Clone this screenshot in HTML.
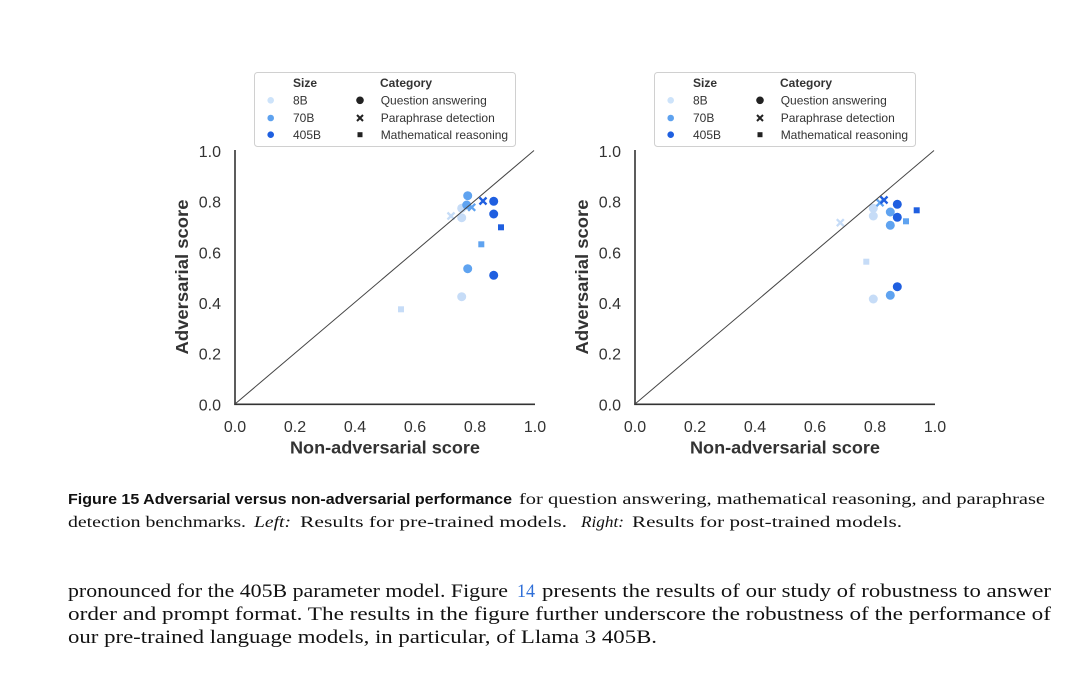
<!DOCTYPE html>
<html>
<head>
<meta charset="utf-8">
<style>
  html,body{margin:0;padding:0;background:#fff;}
  svg{display:block;}
  .tick{font-family:"Liberation Sans",Arial,sans-serif;font-size:16px;fill:#333;}
  .atitle{font-family:"Liberation Sans",Arial,sans-serif;font-size:17.5px;font-weight:bold;fill:#333;}
  .lg{font-family:"Liberation Sans",Arial,sans-serif;font-size:12px;fill:#333;}
  .lgb{font-family:"Liberation Sans",Arial,sans-serif;font-size:12px;font-weight:bold;fill:#333;}
  .cap{font-family:"Liberation Serif","Times New Roman",serif;font-size:16px;fill:#111;}
  .capb{font-family:"Liberation Sans",Arial,sans-serif;font-size:15px;font-weight:bold;fill:#111;}
  .body{font-family:"Liberation Serif","Times New Roman",serif;font-size:19px;fill:#111;}
</style>
</head>
<body>
<svg width="1091" height="674" viewBox="0 0 1091 674" xmlns="http://www.w3.org/2000/svg">
  <rect width="1091" height="674" fill="#fff"/>
  <defs>
    <g id="legend">
      <rect x="254.5" y="72.5" width="261" height="74" rx="3" fill="#fff" stroke="#d0d0d0" stroke-width="1"/>
      <text class="lgb" x="293" y="87">Size</text>
      <text class="lgb" x="380" y="87">Category</text>
      <circle cx="270.7" cy="100.3" r="3.3" fill="#cde3fa"/>
      <circle cx="270.7" cy="118" r="3.3" fill="#5ea2ef"/>
      <circle cx="270.7" cy="134.7" r="3.3" fill="#1e5fe0"/>
      <text class="lg" x="293" y="104.5">8B</text>
      <text class="lg" x="293" y="122.2">70B</text>
      <text class="lg" x="293" y="139">405B</text>
      <circle cx="360" cy="100.3" r="3.8" fill="#222"/>
      <path d="M357,115 L363,121 M363,115 L357,121" stroke="#222" stroke-width="2"/>
      <rect x="357.5" y="132.2" width="5" height="5" fill="#222"/>
      <text class="lg" x="380.7" y="104.5">Question answering</text>
      <text class="lg" x="380.7" y="122.2">Paraphrase detection</text>
      <text class="lg" x="380.7" y="139">Mathematical reasoning</text>
    </g>
    <g id="axes">
      <line x1="235" y1="150" x2="235" y2="404.5" stroke="#333" stroke-width="1.6"/>
      <line x1="234.2" y1="404.3" x2="535" y2="404.3" stroke="#333" stroke-width="1.6"/>
      <text class="tick" x="221" y="157" text-anchor="end">1.0</text>
      <text class="tick" x="221" y="207.5" text-anchor="end">0.8</text>
      <text class="tick" x="221" y="258.3" text-anchor="end">0.6</text>
      <text class="tick" x="221" y="309" text-anchor="end">0.4</text>
      <text class="tick" x="221" y="359.7" text-anchor="end">0.2</text>
      <text class="tick" x="221" y="410.5" text-anchor="end">0.0</text>
      <text class="tick" x="235" y="432" text-anchor="middle">0.0</text>
      <text class="tick" x="295" y="432" text-anchor="middle">0.2</text>
      <text class="tick" x="355" y="432" text-anchor="middle">0.4</text>
      <text class="tick" x="415" y="432" text-anchor="middle">0.6</text>
      <text class="tick" x="475" y="432" text-anchor="middle">0.8</text>
      <text class="tick" x="535" y="432" text-anchor="middle">1.0</text>
      <text class="atitle" x="385" y="453.5" text-anchor="middle" textLength="190" lengthAdjust="spacingAndGlyphs">Non-adversarial score</text>
      <text class="atitle" transform="translate(188,277) rotate(-90)" x="0" y="0" text-anchor="middle" textLength="155" lengthAdjust="spacingAndGlyphs">Adversarial score</text>
    </g>
  </defs>

  <!-- LEFT CHART -->
  <use href="#legend"/>
  <use href="#axes"/>
  <!-- 8B -->
  <g fill="#c6dcf7">
    <rect x="398" y="306.3" width="6" height="6"/>
    <circle cx="461.7" cy="296.7" r="4.5"/>
    <circle cx="461.7" cy="217.7" r="4.5"/>
    <circle cx="461.7" cy="208.3" r="4.5"/>
  </g>
  <path d="M447.5,212.5 L454.5,219.5 M454.5,212.5 L447.5,219.5" stroke="#c6dcf7" stroke-width="2.3"/>
  <!-- 70B -->
  <g fill="#5fa3f0">
    <circle cx="467.7" cy="195.7" r="4.5"/>
    <circle cx="466.7" cy="205" r="4.5"/>
    <circle cx="467.7" cy="268.7" r="4.5"/>
    <rect x="478.3" y="241.3" width="6" height="6"/>
  </g>
  <path d="M468.2,203.8 L475.2,210.8 M475.2,203.8 L468.2,210.8" stroke="#5fa3f0" stroke-width="2.3"/>
  <!-- 405B -->
  <g fill="#1f5fe0">
    <circle cx="493.7" cy="201.3" r="4.5"/>
    <circle cx="493.7" cy="214" r="4.5"/>
    <circle cx="493.7" cy="275.3" r="4.5"/>
    <rect x="498" y="224.3" width="6" height="6"/>
  </g>
  <path d="M479.5,197.5 L486.5,204.5 M486.5,197.5 L479.5,204.5" stroke="#1f5fe0" stroke-width="2.3"/>
  <line x1="235" y1="404" x2="534" y2="150.5" stroke="#444" stroke-width="1"/>

  <!-- RIGHT CHART -->
  <g transform="translate(400,0)">
    <use href="#legend"/>
    <use href="#axes"/>
  </g>
  <!-- 8B -->
  <g fill="#c6dcf7">
    <circle cx="873.3" cy="208.3" r="4.5"/>
    <circle cx="873.3" cy="216" r="4.5"/>
    <circle cx="873.3" cy="299" r="4.5"/>
    <rect x="863.3" y="258.7" width="6" height="6"/>
  </g>
  <path d="M836.8,219.2 L843.8,226.2 M843.8,219.2 L836.8,226.2" stroke="#c6dcf7" stroke-width="2.3"/>
  <!-- 70B -->
  <g fill="#5fa3f0">
    <circle cx="890.3" cy="212" r="4.5"/>
    <circle cx="890.3" cy="225.3" r="4.5"/>
    <circle cx="890.3" cy="295.3" r="4.5"/>
    <rect x="903" y="218.3" width="6" height="6"/>
  </g>
  <path d="M876.5,199.2 L883.5,206.2 M883.5,199.2 L876.5,206.2" stroke="#5fa3f0" stroke-width="2.3"/>
  <!-- 405B -->
  <g fill="#1f5fe0">
    <circle cx="897.3" cy="204.3" r="4.5"/>
    <circle cx="897.3" cy="217.3" r="4.5"/>
    <circle cx="897.3" cy="286.7" r="4.5"/>
    <rect x="913.7" y="207.3" width="6" height="6"/>
  </g>
  <path d="M880.5,196.5 L887.5,203.5 M887.5,196.5 L880.5,203.5" stroke="#1f5fe0" stroke-width="2.3"/>
  <line x1="635" y1="404" x2="934" y2="150.5" stroke="#444" stroke-width="1"/>

  <!-- CAPTION -->
  <text class="capb" x="68" y="504" textLength="444" lengthAdjust="spacingAndGlyphs">Figure 15  Adversarial versus non-adversarial performance</text>
  <text class="cap" x="519" y="504" textLength="526" lengthAdjust="spacingAndGlyphs">for question answering, mathematical reasoning, and paraphrase</text>
  <text class="cap" x="68" y="527" textLength="178" lengthAdjust="spacingAndGlyphs">detection benchmarks.</text>
  <text class="cap" x="254" y="527" font-style="italic" textLength="37" lengthAdjust="spacingAndGlyphs">Left:</text>
  <text class="cap" x="300" y="527" textLength="267" lengthAdjust="spacingAndGlyphs">Results for pre-trained models.</text>
  <text class="cap" x="581" y="527" font-style="italic" textLength="43" lengthAdjust="spacingAndGlyphs">Right:</text>
  <text class="cap" x="632" y="527" textLength="270" lengthAdjust="spacingAndGlyphs">Results for post-trained models.</text>

  <!-- BODY TEXT -->
  <text class="body" x="68" y="597" textLength="440" lengthAdjust="spacingAndGlyphs">pronounced for the 405B parameter model. Figure</text>
  <text class="body" x="517" y="597" style="fill:#2f6fd8" textLength="18" lengthAdjust="spacingAndGlyphs">14</text>
  <text class="body" x="542" y="597" textLength="509" lengthAdjust="spacingAndGlyphs">presents the results of our study of robustness to answer</text>
  <text class="body" x="68" y="620" textLength="983" lengthAdjust="spacingAndGlyphs">order and prompt format. The results in the figure further underscore the robustness of the performance of</text>
  <text class="body" x="68" y="643" textLength="589" lengthAdjust="spacingAndGlyphs">our pre-trained language models, in particular, of Llama 3 405B.</text>
</svg>
</body>
</html>
